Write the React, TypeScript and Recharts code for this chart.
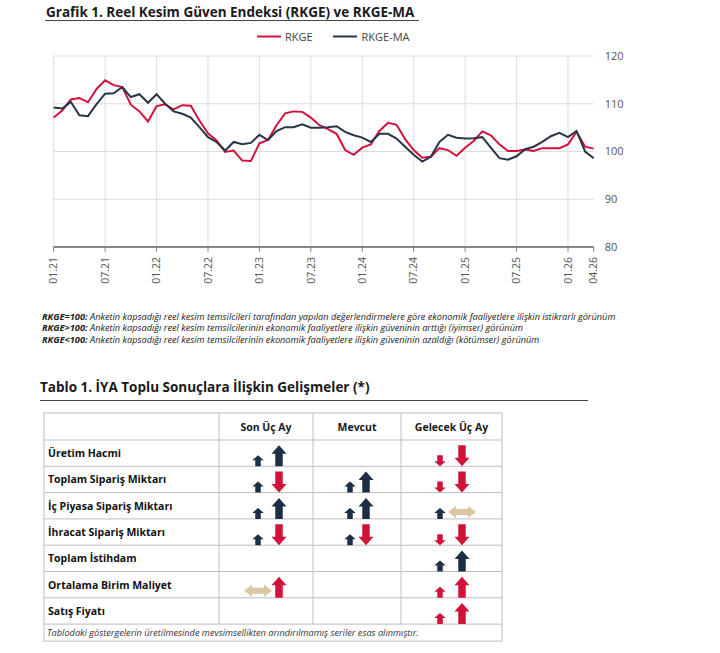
import React from 'react';
import { LineChart, Line, XAxis, YAxis, CartesianGrid, ReferenceLine } from 'recharts';

const months = [
  "01.21","02.21","03.21","04.21","05.21","06.21","07.21","08.21","09.21","10.21","11.21","12.21",
  "01.22","02.22","03.22","04.22","05.22","06.22","07.22","08.22","09.22","10.22","11.22","12.22",
  "01.23","02.23","03.23","04.23","05.23","06.23","07.23","08.23","09.23","10.23","11.23","12.23",
  "01.24","02.24","03.24","04.24","05.24","06.24","07.24","08.24","09.24","10.24","11.24","12.24",
  "01.25","02.25","03.25","04.25","05.25","06.25","07.25","08.25","09.25","10.25","11.25","12.25",
  "01.26","02.26","03.26","04.26"
];

const rkge = [
  107.1,108.6,110.9,111.2,110.3,113.1,114.9,113.9,113.5,109.8,108.4,106.3,
  109.5,109.9,108.8,109.7,109.6,106.5,103.8,102.3,99.9,100.2,98.1,98.0,
  101.7,102.4,105.5,108.0,108.4,108.3,107.1,105.5,104.7,103.7,100.3,99.3,
  100.8,101.5,104.3,106.0,105.6,102.6,100.3,98.7,98.9,100.7,100.3,99.1,
  100.8,102.2,104.2,103.4,101.5,100.1,100.1,100.4,100.1,100.7,100.7,100.7,
  101.5,104.1,101.0,100.6
];

const rkgeMa = [
  109.2,109.0,110.4,107.6,107.4,109.9,112.1,112.2,113.5,111.4,112.0,110.2,
  112.0,110.0,108.4,107.9,107.1,105.1,103.0,102.0,100.2,102.0,101.5,101.8,
  103.5,102.4,104.3,105.1,105.1,105.7,105.0,105.0,105.1,105.3,104.1,103.4,
  102.9,102.0,103.7,103.7,102.7,101.0,99.3,97.9,98.9,102.0,103.5,102.9,
  102.7,102.8,103.0,100.8,98.6,98.3,99.0,100.5,101.0,102.0,103.2,103.9,
  103.0,104.3,100.0,98.6
];

const gridMonths = ["01.21","07.21","01.22","07.22","01.23","07.23","01.24","07.24","01.25","07.25","01.26"];
const xTicks = [...gridMonths, "04.26"];
const yTicks = [80, 90, 100, 110, 120];

const tableRows = [
  "Üretim Hacmi",
  "Toplam Sipariş Miktarı",
  "İç Piyasa Sipariş Miktarı",
  "İhracat Sipariş Miktarı",
  "Toplam İstihdam",
  "Ortalama Birim Maliyet",
  "Satış Fiyatı",
];
const tableCols = ["Son Üç Ay", "Mevcut", "Gelecek Üç Ay"];
// codes: u = navy up, d = red down, r = red up, f = tan sideways, "" = none ; [small, big]
const sonUcAy = [["u","u"],["u","d"],["u","u"],["u","d"],["",""],["f","r"],["",""]];
const mevcut = [["",""],["u","u"],["u","u"],["u","d"],["",""],["",""],["",""]];
const gelecekUcAy = [["d","d"],["d","d"],["u","f"],["d","d"],["u","u"],["r","r"],["r","r"]];

const notes = [
  ["RKGE=100:", " Anketin kapsadığı reel kesim temsilcileri tarafından yapılan değerlendirmelere göre ekonomik faaliyetlere ilişkin istikrarlı görünüm"],
  ["RKGE>100:", " Anketin kapsadığı reel kesim temsilcilerinin ekonomik faaliyetlere ilişkin güveninin arttığı (iyimser) görünüm"],
  ["RKGE<100:", " Anketin kapsadığı reel kesim temsilcilerinin ekonomik faaliyetlere ilişkin güveninin azaldığı (kötümser) görünüm"],
];
const tableNote = "Tablodaki göstergelerin üretilmesinde mevsimsellikten arındırılmamış seriler esas alınmıştır.";

const data = months.map((m, i) => ({ m, rkge: rkge[i], ma: rkgeMa[i] }));

const FONT = "'Open Sans', 'Noto Sans', sans-serif";
const RED = "#d3123c";
const DARK = "#263646";
const NAVY = "#1c2f44";
const TAN = "#dcc6a2";

const XTick = (props: any) => {
  const { x, y, payload } = props;
  const ty = y + 3;
  return (
    <text x={x} y={ty} transform={`rotate(-90 ${x} ${ty})`} textAnchor="end" dy="0.36em"
      fontSize={10.5} fill="#555" fontFamily={FONT}>{payload.value}</text>
  );
};

function arrowPts(cx: number, bottom: number, code: string, big: boolean): string {
  let pts: number[][] = [];
  if (code === 'f') {
    const w = 28, h = 12, hw = 8, sh = 6;
    const cy = bottom - h / 2, l = cx - w / 2, r = cx + w / 2;
    pts = [[l, cy], [l + hw, cy - h / 2], [l + hw, cy - sh / 2], [r - hw, cy - sh / 2], [r - hw, cy - h / 2], [r, cy],
      [r - hw, cy + h / 2], [r - hw, cy + sh / 2], [l + hw, cy + sh / 2], [l + hw, cy + h / 2]];
  } else {
    const w = big ? 15 : 11.5, h = big ? 21 : 11, hh = big ? 8.5 : 5, sw = big ? 7.5 : 5.5;
    const top = bottom - h;
    if (code === 'd') {
      pts = [[cx, bottom], [cx + w / 2, bottom - hh], [cx + sw / 2, bottom - hh], [cx + sw / 2, top], [cx - sw / 2, top],
        [cx - sw / 2, bottom - hh], [cx - w / 2, bottom - hh]];
    } else {
      pts = [[cx, top], [cx + w / 2, top + hh], [cx + sw / 2, top + hh], [cx + sw / 2, bottom], [cx - sw / 2, bottom],
        [cx - sw / 2, top + hh], [cx - w / 2, top + hh]];
    }
  }
  return pts.map(p => p.join(',')).join(' ');
}
const codeColor = (c: string) => (c === 'u' ? NAVY : c === 'f' ? TAN : RED);

const colX = [44, 219, 313, 401, 502];
const slotX = [[258, 279], [350, 366], [440, 462]];
const tableTop = 413;
const headerBottom = 440;
const rowH = 26.3;
const cellData = [sonUcAy, mevcut, gelecekUcAy];

export default function App() {
  const tableBottom = headerBottom + rowH * tableRows.length;
  const noteBottom = tableBottom + 17;
  return (
    <div style={{ position: 'absolute', left: 0, top: 0, width: 720, height: 653, background: '#fff', fontFamily: FONT }}>
      <div style={{ position: 'absolute', left: 0, top: 0 }}>
        <LineChart width={720} height={300} data={data} margin={{ top: 56, left: 53.7, right: 86.3, bottom: 3 }}>
          <CartesianGrid vertical={false} stroke="#dcdcdc" />
          {gridMonths.map(g => (
            <ReferenceLine key={g} x={g} stroke="#dcdcdc" strokeWidth={1} />
          ))}
          <XAxis dataKey="m" ticks={xTicks} interval={0} height={50} tick={<XTick />}
            tickSize={5} tickLine={{ stroke: '#888' }} axisLine={{ stroke: '#222' }} padding={{ left: 0, right: 0 }} />
          <YAxis orientation="right" width={40} domain={[80, 120]} ticks={yTicks} axisLine={false} tickLine={false}
            tickMargin={5} tick={{ fontSize: 11, fill: '#555', fontFamily: FONT }} />
          <Line type="linear" dataKey="rkge" stroke={RED} strokeWidth={2} dot={false} isAnimationActive={false} />
          <Line type="linear" dataKey="ma" stroke={DARK} strokeWidth={2} dot={false} isAnimationActive={false} />
        </LineChart>
      </div>
      <svg width={720} height={653} style={{ position: 'absolute', left: 0, top: 0, pointerEvents: 'none' }} fontFamily={FONT}>
        <text x={46} y={17} fontSize={13.5} fontWeight={700} fill="#1a1a1a">Grafik 1. Reel Kesim Güven Endeksi (RKGE) ve RKGE-MA</text>
        <line x1={45} x2={419} y1={20.5} y2={20.5} stroke="#444" strokeWidth={1.2} />
        <line x1={257} x2={281} y1={36.5} y2={36.5} stroke={RED} strokeWidth={2} />
        <text x={285} y={40.5} fontSize={11} fill="#444">RKGE</text>
        <line x1={333} x2={357} y1={36.5} y2={36.5} stroke={DARK} strokeWidth={2} />
        <text x={361.5} y={40.5} fontSize={11} fill="#444">RKGE-MA</text>

        {notes.map((n, i) => (
          <text key={i} x={42} y={319.5 + i * 11.5} fontSize={9.2} fontStyle="italic" fill="#222">
            <tspan fontWeight={700}>{n[0]}</tspan>
            <tspan>{n[1]}</tspan>
          </text>
        ))}

        <text x={40} y={392} fontSize={13.5} fontWeight={700} fill="#1a1a1a">Tablo 1. İYA Toplu Sonuçlara İlişkin Gelişmeler (*)</text>
        <line x1={40} x2={588} y1={400.5} y2={400.5} stroke="#444" strokeWidth={1.2} />

        <rect x={colX[0]} y={tableTop} width={colX[4] - colX[0]} height={noteBottom - tableTop} fill="none" stroke="#bdbdbd" strokeWidth={1} />
        {[1, 2, 3].map(c => (
          <line key={c} x1={colX[c]} x2={colX[c]} y1={tableTop} y2={tableBottom} stroke="#bdbdbd" strokeWidth={1} />
        ))}
        {[0, ...tableRows.map((_, r) => r + 1)].map(r => (
          <line key={r} x1={colX[0]} x2={colX[4]} y1={headerBottom + r * rowH} y2={headerBottom + r * rowH} stroke="#bdbdbd" strokeWidth={1} />
        ))}
        {tableCols.map((c, i) => (
          <text key={c} x={(colX[i + 1] + colX[i + 2]) / 2} y={431} textAnchor="middle" fontSize={10.5} fontWeight={700} fill="#1a1a1a">{c}</text>
        ))}
        {tableRows.map((r, i) => (
          <text key={r} x={48} y={headerBottom + i * rowH + 17} fontSize={10.5} fontWeight={700} fill="#111">{r}</text>
        ))}
        {cellData.map((col, c) =>
          col.map((cell, r) =>
            cell.map((code, s) => {
              if (!code) return null;
              const bottom = headerBottom + (r + 1) * rowH - (code === 'f' ? 1 : 0);
              return (
                <polygon key={`${c}-${r}-${s}`} points={arrowPts(slotX[c][s], bottom, code, s === 1)} fill={codeColor(code)} />
              );
            })
          )
        )}
        <text x={47} y={tableBottom + 11.5} fontSize={9.2} fontStyle="italic" fill="#333">{tableNote}</text>
      </svg>
    </div>
  );
}
